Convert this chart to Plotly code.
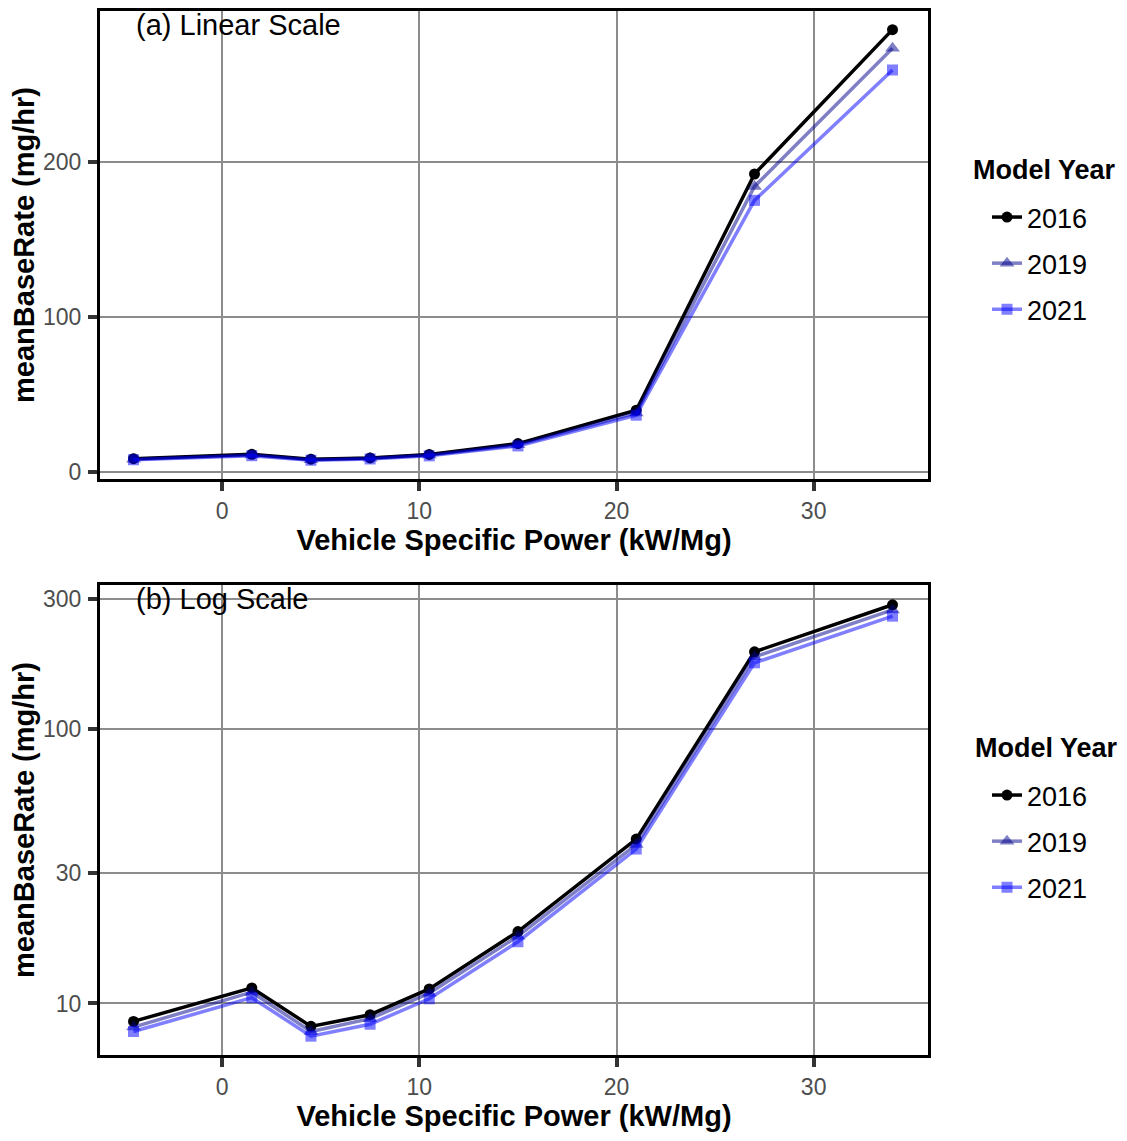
import plotly.graph_objects as go
from plotly.subplots import make_subplots

vsp = [-4.5, 1.5, 4.5, 7.5, 10.5, 15, 21, 27, 34]
years = ["2016", "2019", "2021"]
rate_2016 = [8.6, 11.4, 8.25, 9.1, 11.3, 18.3, 39.8, 192, 285]
rate_2019 = [8.2, 11.0, 7.9, 8.8, 10.9, 17.6, 38.0, 184, 273]
rate_2021 = [7.9, 10.5, 7.6, 8.4, 10.4, 16.8, 36.6, 175, 259]
rates = [rate_2016, rate_2019, rate_2021]

styles = {
    "2016": dict(line="rgba(0,0,0,1)", marker="rgba(0,0,0,1)", symbol="circle", size=11),
    "2019": dict(line="rgba(0,0,139,0.5)", marker="rgba(0,0,139,0.5)", symbol="triangle-up", size=13),
    "2021": dict(line="rgba(0,0,255,0.5)", marker="rgba(0,0,255,0.5)", symbol="square", size=11),
}

FONT = "Liberation Sans, Arial, sans-serif"

# page body has an 8px default margin: figure sized to fit inside the window without overflow
OFF = 8
W, H = 1111, 1125
ML, MT = 92, 3
PW = 828
PH = (1055 - OFF) - MT
MR = W - ML - PW
MB = H - MT - PH


def px_x(sx):
    return (sx - OFF - ML) / PW


def px_y(sy):
    return min(1.0, max(0.0, 1 - (sy - OFF - MT) / PH))


fig = make_subplots(rows=2, cols=1, vertical_spacing=0.1)

for row, leg in [(1, "legend"), (2, "legend2")]:
    for yr, vals in zip(years, rates):
        s = styles[yr]
        fig.add_trace(go.Scatter(
            x=vsp, y=vals, mode="lines+markers", name=yr,
            line=dict(color=s["line"], width=3.5),
            marker=dict(color=s["marker"], symbol=s["symbol"], size=s["size"], line=dict(width=0)),
            legend=leg, legendgroup=f"{leg}{yr}",
        ), row=row, col=1)

axis_common = dict(
    showline=True, linecolor="black", linewidth=3, mirror=True,
    showgrid=True, gridcolor="#8c8c8c", gridwidth=1.5, zeroline=False,
    ticks="outside", ticklen=9, tickwidth=3.5, tickcolor="#333333",
    tickfont=dict(family=FONT, size=23, color="#4d4d4d"),
    automargin=False,
)

xtitle = dict(text="<b>Vehicle Specific Power (kW/Mg)</b>", font=dict(family=FONT, size=29, color="black"), standoff=8)
ytitle = dict(text="<b>meanBaseRate (mg/hr)</b>", font=dict(family=FONT, size=29, color="black"), standoff=6)

fig.update_xaxes(**axis_common, range=[-6.2, 35.8], tickvals=[0, 10, 20, 30], title=xtitle)
fig.update_yaxes(**axis_common, title=ytitle, ticklabelstandoff=2)
fig.update_layout(
    yaxis=dict(domain=[px_y(479), 1.0], range=[-4.5, 297], tickvals=[0, 100, 200]),
    yaxis2=dict(domain=[0.0, px_y(585)], type="log", range=[0.812, 2.527], tickvals=[10, 30, 100, 300]),
)

legend_common = dict(
    x=px_x(987), xanchor="left", yanchor="top",
    font=dict(family=FONT, size=27, color="black"),
    tracegroupgap=8, bgcolor="rgba(0,0,0,0)",
)
fig.update_layout(
    legend=dict(**legend_common, y=px_y(193)),
    legend2=dict(**legend_common, y=px_y(771)),
)

# legend titles
for sx, sy in [(971, 170), (973, 748)]:
    fig.add_annotation(x=px_x(sx), y=px_y(sy), xref="paper", yref="paper", text="<b>Model Year</b>",
                       showarrow=False, xanchor="left", yanchor="middle",
                       font=dict(family=FONT, size=27, color="black"))

fig.add_annotation(x=-4.5, y=288, xref="x", yref="y", text="(a) Linear Scale", showarrow=False,
                   xanchor="left", yanchor="middle", font=dict(family=FONT, size=29, color="black"))
fig.add_annotation(x=-4.5, y=2.477, xref="x2", yref="y2", text="(b) Log Scale", showarrow=False,
                   xanchor="left", yanchor="middle", font=dict(family=FONT, size=29, color="black"))

fig.update_layout(
    width=W, height=H,
    margin=dict(l=ML, r=MR, t=MT, b=MB, autoexpand=False),
    paper_bgcolor="white", plot_bgcolor="white",
    font=dict(family=FONT),
)

fig.write_html("out.html")
